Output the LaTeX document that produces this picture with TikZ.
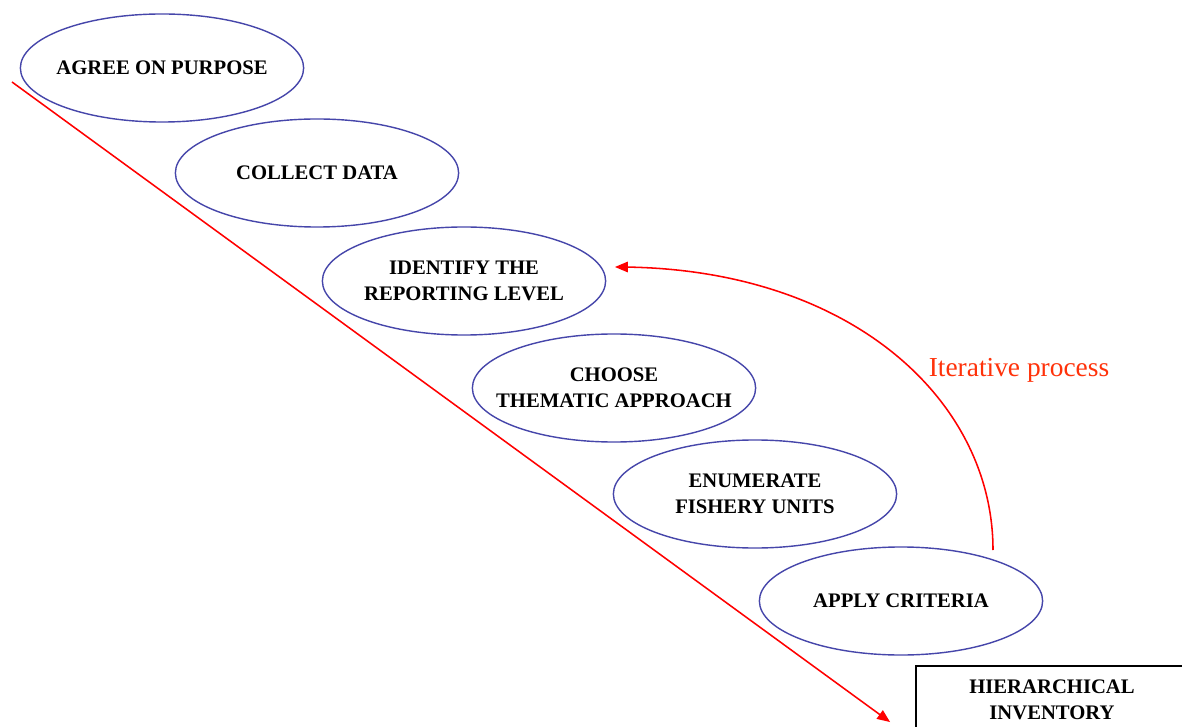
\documentclass[tikz,border=0pt]{standalone}
\usepackage{fontspec}
\setmainfont{Liberation Serif}
\usetikzlibrary{arrows}
\usetikzlibrary{shapes.geometric}

\begin{document}
\begin{tikzpicture}[x=0.025cm,y=-0.025cm]
	\definecolor{bleu}{RGB}{70,70,170}
	\definecolor{orange}{RGB}{255,50,10}
	\tikzstyle{etape}=[ellipse,draw=bleu,line width=1pt,inner xsep=-25pt,minimum width=7.08cm,minimum height=2.7cm,align=center,font=\bfseries\fontsize{14.7}{18.5}\selectfont]
	\tikzstyle{boite}=[draw,line width=1.3pt,minimum width=6.9cm,minimum height=1.9cm,anchor=north west,inner sep=0pt]
	\tikzstyle{fleche}=[red,line width=1.1pt,-triangle 45]
	\useasboundingbox (0,0) rectangle (1182,727);
	\clip (0,0) rectangle (1182,727);
	\node[etape] (A) at (162,68){AGREE ON PURPOSE};
	\node[etape] (B) at (317,173){COLLECT DATA};
	\node[etape] (C) at (464,281){IDENTIFY THE\\REPORTING LEVEL};
	\node[etape] (D) at (614,388){CHOOSE\\THEMATIC APPROACH};
	\node[etape] (E) at (755,494){ENUMERATE\\FISHERY UNITS};
	\node[etape] (F) at (901,601){APPLY CRITERIA};
	\node[boite] (G) at (915,665){};
	\node[align=center,font=\bfseries\fontsize{14.7}{18.5}\selectfont] (H) at (1052,700){HIERARCHICAL\\INVENTORY};
	\coordinate (debut) at (12,82);
	\coordinate (fin) at (890,722);
	\coordinate (depart) at (993,550);
	\coordinate (retour) at (615,267);
	\draw[fleche] (debut) -- (fin);
	\draw[fleche] (depart) .. controls (993,400) and (850,267) .. (retour);
	\node[text=orange,font=\fontsize{19.5}{22}\selectfont] (I) at (1019,370){Iterative process};
\end{tikzpicture}
\end{document}
